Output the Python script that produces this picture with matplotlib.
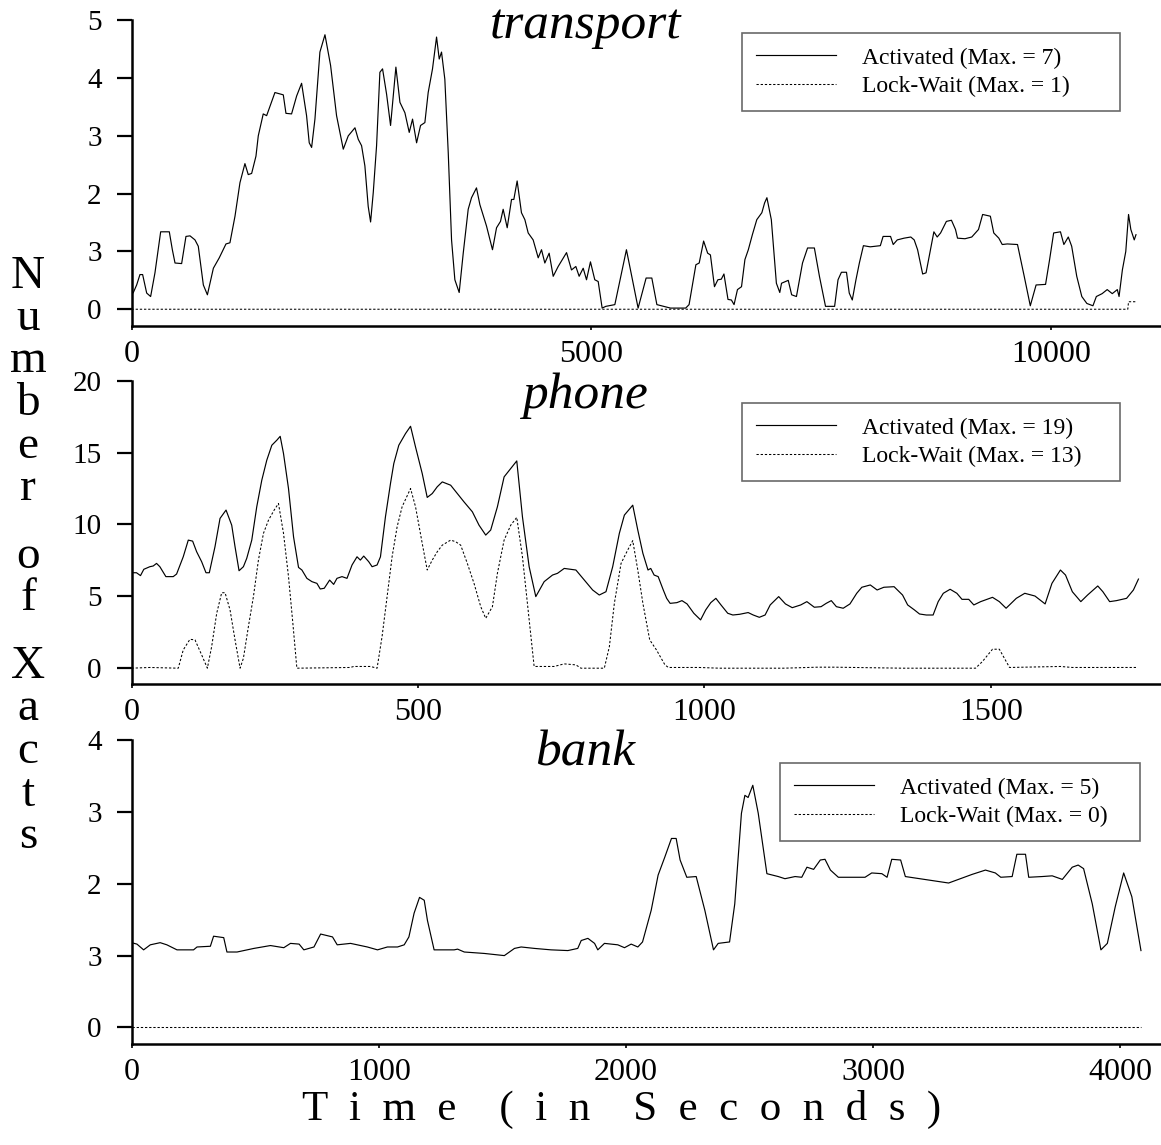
import matplotlib
matplotlib.use("Agg")
import matplotlib.pyplot as plt

plt.rcParams['font.family'] = ['Liberation Serif', 'DejaVu Serif']

# ---------------- data ----------------
transport_t = [0,20,56,92,121,165,208,255,317,411,444,473,545,592,636,690,726,781,825,890,
               954,1027,1070,1125,1179,1233,1269,1306,1353,1378,1432,1469,1559,1650,1679,1740,1795,1849,1903,1932,
               1958,1994,2048,2103,2164,2229,2302,2356,2429,2465,2501,2537,2573,2599,2628,2664,2700,2729,2773,2816,
               2874,2918,2972,3019,3055,3099,3142,3189,3225,3272,3316,3345,3370,3406,3443,3479,3515,3562,3606,3660,
               3696,3750,3787,3859,3924,3968,4011,4040,4084,4131,4156,4192,4239,4276,4312,4366,4421,4457,4493,4540,
               4584,4638,4729,4783,4830,4866,4910,4946,4989,5036,5073,5116,5156,5254,5380,5507,
               5594,5656,5711,5859,6024,6061,6135,6171,6219,6263,6293,6337,6374,6411,6440,6484,6521,6550,6587,6631,
               6668,6705,6749,6797,6852,6882,6907,6955,6981,7010,7047,7066,7139,7176,7228,7294,7349,7423,7478,7544,
               7643,7680,7717,7772,7802,7835,7875,7912,7956,8030,8140,8170,8251,8280,8324,8398,8471,8508,8545,8600,
               8637,8685,8722,8758,8795,8858,8913,8957,8979,9060,9134,9207,9252,9336,9373,9428,9465,9520,9631,9704,
               9770,9833,9936,9980,10024,10098,10135,10183,10220,10275,10330,10385,10451,10488,10551,10606,10661,10716,10735,10771,
               10808,10838,10863,10900,10919]
transport_act = [0.25,0.29,0.42,0.6,0.6,0.28,0.22,0.63,1.34,1.34,1.03,0.8,0.79,1.26,1.27,1.2,1.09,0.42,0.25,0.71,
                 0.89,1.13,1.15,1.61,2.19,2.52,2.33,2.35,2.65,3.0,3.38,3.35,3.75,3.71,3.39,3.38,3.69,3.91,3.35,2.88,
                 2.8,3.29,4.45,4.75,4.22,3.35,2.77,3.0,3.14,2.94,2.83,2.48,1.78,1.51,2.02,2.83,4.1,4.16,3.72,3.18,
                 4.19,3.58,3.4,3.06,3.29,2.88,3.18,3.23,3.75,4.16,4.71,4.33,4.45,3.98,2.71,1.2,0.51,0.29,0.97,1.73,
                 1.93,2.1,1.81,1.44,1.03,1.41,1.52,1.73,1.41,1.9,1.9,2.22,1.67,1.55,1.32,1.2,0.89,1.03,0.8,0.97,
                 0.57,0.74,0.98,0.68,0.74,0.57,0.71,0.51,0.82,0.51,0.48,0.02,0.05,0.08,1.03,0.02,
                 0.54,0.54,0.08,0.02,0.02,0.08,0.77,0.8,1.18,0.97,0.94,0.39,0.51,0.52,0.61,0.17,0.16,0.08,0.34,0.39,
                 0.86,1.03,1.29,1.55,1.67,1.84,1.93,1.55,1.03,0.45,0.29,0.45,0.5,0.25,0.22,0.8,1.06,1.06,0.57,0.05,
                 0.05,0.51,0.64,0.64,0.28,0.16,0.51,0.8,1.1,1.08,1.1,1.26,1.26,1.12,1.2,1.23,1.25,1.2,1.03,0.61,
                 0.63,1.03,1.34,1.25,1.32,1.52,1.54,1.38,1.23,1.22,1.25,1.38,1.64,1.61,1.32,1.23,1.12,1.13,1.12,0.57,
                 0.06,0.42,0.43,0.86,1.32,1.34,1.12,1.25,1.09,0.57,0.22,0.1,0.06,0.22,0.27,0.34,0.27,0.34,0.22,0.68,
                 1.0,1.64,1.38,1.2,1.29]
transport_lw_t = [0, 10830, 10838, 10919]
transport_lw = [0, 0, 0.13, 0.13]

phone_act_t = [0,8.7,15.7,21.5,32,37.9,43.7,49.5,60,72.8,78.7,90.3,99.1,106.7,113.7,122.4,130,135.8,145.7,154.5,
               165,174.9,180.7,187.7,195.3,201.1,209.9,218.6,227.4,236.1,244.9,253.6,259.5,265.3,274,282.8,291.5,297.4,306.1,314.9,
               323.6,329.4,336.4,345.8,352.8,358.6,367.4,376.1,384.9,393.6,399.4,405.3,414,419.9,428.6,434.5,443.2,452,457.8,466.5,
               478.2,487,495.7,507.4,516.1,524.9,533.6,542.4,557,568.6,580.3,594.9,606.5,618.2,626.9,638.6,650.3,661.9,672.4,682.3,
               694,705.6,720.2,734.8,743.5,755.2,766.9,775.6,790.2,804.8,816.4,828.1,839.8,851.4,860.2,874.8,
               883.6,892.5,901.4,906.2,912.1,919.2,928.1,934,940,951.8,960.7,969.6,981.4,993.2,1002.1,1011,1019.9,1028.8,1040.6,1049.5,
               1061.4,1076.2,1085.1,1095.7,1105.8,1114.7,1129.5,1141.3,1153.2,1168,1178.7,1191.7,1203.5,1212.4,1221.3,1230.2,1242.1,1253.9,1265.7,1274.6,
               1289.4,1301.3,1313.1,1330.9,1345.7,1354.6,1366.5,1375.3,1387.2,1399,1407.9,1416.8,1428.7,1440.5,1449.4,1461.2,1470.1,1482,1502.7,1514.6,
               1526.4,1532.4,1544.2,1559,1576.8,1594.5,1606.4,1621.2,1630.1,1642,1656.8,1668.6,1686.4,1695.3,1707.1,1719,1736.7,1748.6,1757.4]
phone_act = [6.64,6.64,6.44,6.88,7.06,7.11,7.29,7.06,6.37,6.37,6.55,7.75,8.91,8.84,8.1,7.41,6.64,6.64,8.45,10.42,
             11.0,9.95,8.45,6.78,7.06,7.64,8.91,11.23,13.08,14.47,15.51,15.86,16.13,14.93,12.5,9.14,7.01,6.83,6.25,6.02,
             5.9,5.51,5.56,6.13,5.83,6.25,6.37,6.25,7.18,7.75,7.52,7.8,7.41,7.06,7.18,7.75,10.53,12.85,14.24,15.51,
             16.32,16.83,15.39,13.54,11.88,12.15,12.62,12.96,12.73,12.15,11.57,10.88,9.95,9.26,9.61,11.23,13.31,13.89,14.42,10.53,
             7.06,4.98,6.02,6.48,6.6,6.94,6.88,6.83,6.13,5.44,5.09,5.32,7.06,9.38,10.65,11.34,
             9.61,7.99,6.83,6.94,6.48,6.37,5.44,4.86,4.51,4.56,4.7,4.47,3.82,3.36,4.05,4.56,4.86,4.4,3.82,3.7,
             3.75,3.87,3.7,3.54,3.7,4.4,4.98,4.47,4.21,4.4,4.63,4.24,4.28,4.51,4.7,4.28,4.17,4.47,5.21,5.63,
             5.79,5.44,5.63,5.67,5.09,4.4,4.05,3.77,3.7,3.7,4.63,5.21,5.49,5.21,4.79,4.79,4.4,4.63,4.93,4.63,
             4.17,4.4,4.86,5.21,5.02,4.47,5.9,6.83,6.48,5.32,4.63,5.09,5.72,5.32,4.63,4.7,4.86,5.44,6.2]
phone_lw_t = [0,32,81.6,90.3,102,110.8,122.4,132.4,139.9,148.7,157.4,163.3,172,180.7,189.5,195.3,204,212.8,221.5,230.3,
              239.1,249,256.5,265.3,274,281.6,288.6,382,387.8,417,428.6,437.3,446.1,454.8,463.6,472.3,487,495.7,507.4,516.1,
              524.9,533.6,542.4,557,565.7,574.5,586.1,597.8,609.5,618.2,629.9,638.6,650.3,661.9,672.4,682.3,692.2,702.7,737.7,755.2,
              775.6,784.4,825.2,834,842.7,854.4,866,874.8,
              883.6,892.5,904.4,916.2,931,937,990.3,1025.8,1138.4,1197.6,1227.2,1345.7,1473,1485,1502.7,1514.6,1532.4,1621.2,1642,1754.5]
phone_lw = [0,0.05,0,1.27,2.01,1.97,0.93,0,1.5,3.82,5.25,5.25,4.05,1.97,0,0.69,2.89,4.98,7.52,9.38,
            10.3,11.0,11.46,9.38,6.37,3.13,0,0.05,0.12,0.12,0,2.2,4.98,7.75,9.84,11.23,12.5,11.23,8.68,6.83,
            7.52,8.1,8.56,8.91,8.8,8.56,7.29,5.9,4.28,3.47,4.28,6.6,8.91,9.95,10.49,7.75,4.05,0.12,0.12,0.3,
            0.23,0,0,1.5,4.51,7.29,8.22,8.87,
            6.83,4.51,1.97,1.27,0.23,0.05,0.05,0,0,0.07,0.07,0,0,0.46,1.32,1.32,0.05,0.12,0.05,0.05]

bank_t = [0,22,49,76,116,143,184,251,265,319,332,373,386,427,495,562,616,643,678,697,
          738,765,813,832,886,954,995,1035,1076,1103,1122,1143,1165,1184,1197,1224,1305,1319,1346,1427,
          1508,1549,1576,1630,1697,1765,1805,1819,1846,1873,1886,1913,1967,1994,2021,2048,2067,2102,2130,2157,
          2184,2203,2219,2246,2284,2319,2354,2373,2419,2440,2467,2481,2494,2513,2535,2570,2616,2643,2684,2711,
          2732,2759,2786,2805,2827,2859,2967,2994,3035,3056,3075,3111,3130,3305,3400,3454,3494,3516,3562,3581,
          3616,3629,3683,3724,3765,3805,3829,3851,3886,3921,3947,3979,4013,4046,4083]
bank_act = [1.18,1.16,1.08,1.15,1.18,1.15,1.08,1.08,1.12,1.13,1.27,1.25,1.05,1.05,1.1,1.14,1.11,1.17,1.16,1.08,
            1.12,1.3,1.26,1.15,1.17,1.12,1.08,1.12,1.12,1.15,1.26,1.59,1.81,1.77,1.49,1.08,1.08,1.09,1.05,1.03,
            1.0,1.1,1.12,1.1,1.08,1.07,1.1,1.21,1.24,1.17,1.08,1.17,1.15,1.11,1.16,1.12,1.19,1.63,2.12,2.37,
            2.63,2.63,2.33,2.09,2.1,1.63,1.08,1.17,1.19,1.72,2.98,3.23,3.2,3.37,2.98,2.14,2.1,2.07,2.1,2.09,
            2.23,2.2,2.33,2.34,2.19,2.09,2.09,2.15,2.14,2.09,2.34,2.33,2.1,2.01,2.13,2.19,2.15,2.09,2.1,2.41,
            2.41,2.09,2.1,2.11,2.06,2.23,2.26,2.21,1.72,1.08,1.17,1.68,2.15,1.82,1.07]
bank_lw_t = [0, 4083]
bank_lw = [0, 0]

titles = ["transport", "phone", "bank"]
legend_act = ["Activated (Max. = 7)", "Activated (Max. = 19)", "Activated (Max. = 5)"]
legend_lw = ["Lock-Wait (Max. = 1)", "Lock-Wait (Max. = 13)", "Lock-Wait (Max. = 0)"]
yticks = [[0, 1, 2, 3, 4, 5], [0, 5, 10, 15, 20], [0, 1, 2, 3, 4]]
ytick_labels = [["0", "3", "2", "3", "4", "5"], ["0", "5", "10", "15", "20"], ["0", "3", "2", "3", "4"]]
xticks = [[0, 5000, 10000], [0, 500, 1000, 1500], [0, 1000, 2000, 3000, 4000]]
xlims = [(0, 11180), (0, 1795), (0, 4160)]
ylims = [(-0.29, 5), (-1.1, 20), (-0.23, 4)]

series = [(transport_t, transport_act, transport_lw_t, transport_lw),
          (phone_act_t, phone_act, phone_lw_t, phone_lw),
          (bank_t, bank_act, bank_lw_t, bank_lw)]

# ---------------- layout ----------------
W, H = 1161, 1145
fig = plt.figure(figsize=(W / 100, H / 100), dpi=100)
left = 131.5 / W
width = 1028.5 / W
boxes = [(20.3, 326), (380.7, 684), (740, 1044)]
title_drop = [18, 27, 25]
legend_boxes = [(742, 1120, 33), (742, 1120, 403), (780, 1140, 763)]

for i in range(3):
    top, bot = boxes[i]
    ax = fig.add_axes([left, 1 - bot / H, width, (bot - top) / H])
    t, a, lt, lw = series[i]
    ax.plot(t, a, color='black', lw=0.85, label=legend_act[i])
    ax.plot(lt, lw, color='black', lw=0.75, dashes=(2.2, 1.8), label=legend_lw[i])
    ax.set_xlim(*xlims[i])
    ax.set_ylim(*ylims[i])
    for s in ('top', 'right'):
        ax.spines[s].set_visible(False)
    for s in ('left', 'bottom'):
        ax.spines[s].set_linewidth(1.8)
    ax.set_yticks(yticks[i])
    ax.set_yticklabels(ytick_labels[i])
    ax.set_xticks(xticks[i])
    ax.set_xticklabels([str(v) for v in xticks[i]])
    ax.tick_params(axis='y', length=11, width=1.6, direction='out', pad=10.5, labelsize=21)
    ax.tick_params(axis='x', length=3, width=1.2, direction='out', pad=7, labelsize=23)
    ax.text(0.441, 1 - title_drop[i] / (bot - top), titles[i], transform=ax.transAxes, ha='center',
            va='baseline', fontsize=37, style='italic')
    lx0, lx1, ly0 = legend_boxes[i]
    bx0 = (lx0 - 131.5) / 1028.5
    bw = (lx1 - lx0) / 1028.5
    by = 1 - (ly0 - top) / (bot - top)
    leg = ax.legend(loc='upper left', bbox_to_anchor=(bx0, by - 0.3, bw, 0.3), mode='expand',
                    borderaxespad=0, fontsize=17, handlelength=3.4, handletextpad=1.1,
                    borderpad=0.6, labelspacing=0.28, fancybox=False, frameon=True)
    leg.get_frame().set_edgecolor('#444444')
    leg.get_frame().set_linewidth(1.2)

# y-axis label (stacked letters); positions are baselines of each word's last letter
words = ["N\nu\nm\nb\ne\nr", "o\nf", "X\na\nc\nt\ns"]
last_baselines = [500, 610, 848]
for wtxt, b in zip(words, last_baselines):
    fig.text(28 / W, 1 - b / H, wtxt, ha='center', va='baseline', fontsize=34,
             linespacing=1.0, multialignment='center')

fig.text(622 / W, 1 - 1120 / H,
         "T  i  m  e    (  i  n    S  e  c  o  n  d  s  )",
         ha='center', va='baseline', fontsize=31)

fig.savefig("out.png", dpi=100)
